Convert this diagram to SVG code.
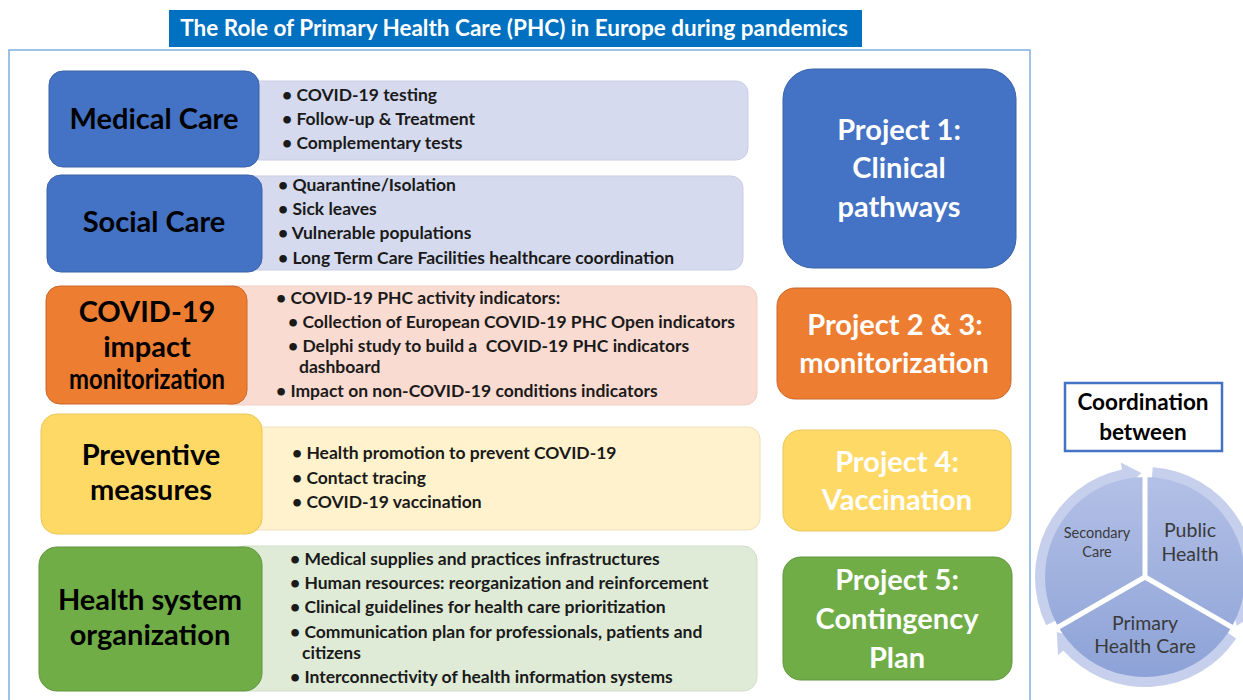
<svg xmlns="http://www.w3.org/2000/svg" width="1243" height="700" viewBox="0 0 1243 700">
<defs>
<style>
text{font-family:Lato,"Open Sans","Liberation Sans",sans-serif;font-weight:bold;}
.h{font-size:29px;fill:#000;text-anchor:middle;}
.p{font-size:29px;fill:#fff;text-anchor:middle;}
.b{font-size:17.5px;fill:#1a1a1a;}
.c{font-weight:normal;fill:#3a3a3a;text-anchor:middle;}
.blue{fill:#4472C4;stroke:#3A62A8;stroke-width:1;}
.orange{fill:#ED7D31;stroke:#C8682A;stroke-width:1;}
.yellow{fill:#FFD966;stroke:#E8C658;stroke-width:1;}
.green{fill:#70AD47;stroke:#5F953C;stroke-width:1;}
.d1{fill:#D6DAEE;stroke:#C9CEE3;stroke-width:1;}
.d2{fill:#FADBD1;stroke:#EDCFC5;stroke-width:1;}
.d3{fill:#FFF2CC;stroke:#EDE0BC;stroke-width:1;}
.d4{fill:#DFEBD7;stroke:#D0DDC8;stroke-width:1;}
.ring{fill:#C6CFEC;}
</style>
<linearGradient id="pie" x1="0" y1="0" x2="0" y2="1">
<stop offset="0" stop-color="#B3C0E6"/>
<stop offset="1" stop-color="#8DA2D7"/>
</linearGradient>
</defs>
<rect x="0" y="0" width="1243" height="700" fill="#fff"/>

<g id="title">
<rect x="169" y="10" width="693" height="37" fill="#0070C0"/>
<text x="514" y="36" font-size="22.5" fill="#fff" text-anchor="middle">The Role of Primary Health Care (PHC) in Europe during pandemics</text>
</g>

<g id="frame">
<rect x="9" y="50" width="1021" height="660" fill="none" stroke="#7FB0E0" stroke-width="1.5"/>
</g>

<g id="medical-care">
<rect class="d1" x="230" y="81" width="518" height="79" rx="12"/>
<rect class="blue" x="49" y="71" width="210" height="96" rx="14"/>
<text class="h" x="154" y="129">Medical Care</text>
<text class="b" x="282" y="101">• COVID-19 testing</text>
<text class="b" x="282" y="125">• Follow-up &amp; Treatment</text>
<text class="b" x="282" y="149">• Complementary tests</text>
</g>

<g id="social-care">
<rect class="d1" x="230" y="176" width="513" height="94" rx="12"/>
<rect class="blue" x="47" y="175" width="215" height="97" rx="14"/>
<text class="h" x="154" y="232">Social Care</text>
<text class="b" x="278" y="191">• Quarantine/Isolation</text>
<text class="b" x="278" y="215">• Sick leaves</text>
<text class="b" x="278" y="239">• Vulnerable populations</text>
<text class="b" x="278" y="264">• Long Term Care Facilities healthcare coordination</text>
</g>

<g id="impact-monitorization">
<rect class="d2" x="220" y="286" width="537" height="119" rx="12"/>
<rect class="orange" x="46" y="286" width="201" height="118" rx="14"/>
<text class="h" x="147" y="322">COVID-19</text>
<text class="h" x="147" y="357">impact</text>
<text class="h" x="147" y="389" font-size="24" textLength="156" lengthAdjust="spacingAndGlyphs">monitorization</text>
<text class="b" x="276" y="304">• COVID-19 PHC activity indicators:</text>
<text class="b" x="288" y="328">• Collection of European COVID-19 PHC Open indicators</text>
<text class="b" x="288" y="352" xml:space="preserve">• Delphi study to build a  COVID-19 PHC indicators</text>
<text class="b" x="299" y="373">dashboard</text>
<text class="b" x="276" y="397">• Impact on non-COVID-19 conditions indicators</text>
</g>

<g id="preventive-measures">
<rect class="d3" x="230" y="427" width="530" height="103" rx="12"/>
<rect class="yellow" x="41" y="414" width="221" height="120" rx="16"/>
<text class="h" x="151" y="465">Preventive</text>
<text class="h" x="151" y="500">measures</text>
<text class="b" x="292" y="459">• Health promotion to prevent COVID-19</text>
<text class="b" x="292" y="484">• Contact tracing</text>
<text class="b" x="292" y="508">• COVID-19 vaccination</text>
</g>

<g id="health-system">
<rect class="d4" x="230" y="546" width="527" height="145" rx="14"/>
<rect class="green" x="39" y="547" width="223" height="144" rx="18"/>
<text class="h" x="150" y="610">Health system</text>
<text class="h" x="150" y="645">organization</text>
<text class="b" x="290" y="565">• Medical supplies and practices infrastructures</text>
<text class="b" x="290" y="589">• Human resources: reorganization and reinforcement</text>
<text class="b" x="290" y="613">• Clinical guidelines for health care prioritization</text>
<text class="b" x="290" y="638">• Communication plan for professionals, patients and</text>
<text class="b" x="302" y="659">citizens</text>
<text class="b" x="290" y="683">• Interconnectivity of health information systems</text>
</g>

<g id="project-1">
<rect class="blue" x="783" y="69" width="233" height="199" rx="30"/>
<text class="p" x="899" y="140">Project 1:</text>
<text class="p" x="899" y="178">Clinical</text>
<text class="p" x="899" y="217">pathways</text>
</g>

<g id="project-2-3">
<rect class="orange" x="777" y="288" width="234" height="111" rx="18"/>
<text class="p" x="895" y="335">Project 2 &amp; 3:</text>
<text class="p" x="894" y="373">monitorization</text>
</g>

<g id="project-4">
<rect class="yellow" x="783" y="430" width="228" height="101" rx="18"/>
<text class="p" x="897" y="472">Project 4:</text>
<text class="p" x="897" y="510">Vaccination</text>
</g>

<g id="project-5">
<rect class="green" x="783" y="557" width="229" height="123" rx="18"/>
<text class="p" x="897" y="590">Project 5:</text>
<text class="p" x="897" y="629">Contingency</text>
<text class="p" x="897" y="668">Plan</text>
</g>

<g id="coordination">
<rect x="1065" y="383" width="157" height="68" fill="#fff" stroke="#4472C4" stroke-width="2.5"/>
<text x="1143" y="410" font-size="22.5" fill="#000" text-anchor="middle">Coordination</text>
<text x="1143" y="440" font-size="22.5" fill="#000" text-anchor="middle">between</text>
</g>

<g id="connectors">
<path class="ring" d="M1152.68,467.27 A110,110 0 0 1 1249.62,610.99 L1256.28,613.15 L1236.82,625.83 L1231.55,605.12 L1238.21,607.28 A98,98 0 0 0 1151.84,479.24 Z"/>
<path class="ring" d="M1236.19,638.51 A110,110 0 0 1 1063.26,650.60 L1058.06,655.28 L1056.81,632.11 L1077.38,637.89 L1072.18,642.57 A98,98 0 0 0 1226.24,631.80 Z"/>
<path class="ring" d="M1046.13,625.22 A110,110 0 0 1 1122.13,469.41 L1120.68,462.56 L1141.37,473.06 L1126.08,487.99 L1124.63,481.15 A98,98 0 0 0 1056.92,619.96 Z"/>
</g>

<g id="cycle">
<circle cx="1145" cy="577" r="100" fill="url(#pie)"/>
<g stroke="#fff" stroke-width="5" stroke-linecap="butt">
<line x1="1145" y1="577" x2="1145" y2="458"/>
<line x1="1145" y1="577" x2="1248" y2="636.5"/>
<line x1="1145" y1="577" x2="1042" y2="636.5"/>
</g>
</g>

<g id="secondary-care">
<text class="c" x="1097" y="538" font-size="14.5">Secondary</text>
<text class="c" x="1097" y="557" font-size="14.5">Care</text>
</g>
<g id="public-health">
<text class="c" x="1190" y="537" font-size="19.5">Public</text>
<text class="c" x="1190" y="561" font-size="19.5">Health</text>
</g>
<g id="primary-health-care">
<text class="c" x="1145" y="630" font-size="19.5">Primary</text>
<text class="c" x="1145" y="653" font-size="19.5">Health Care</text>
</g>
</svg>
